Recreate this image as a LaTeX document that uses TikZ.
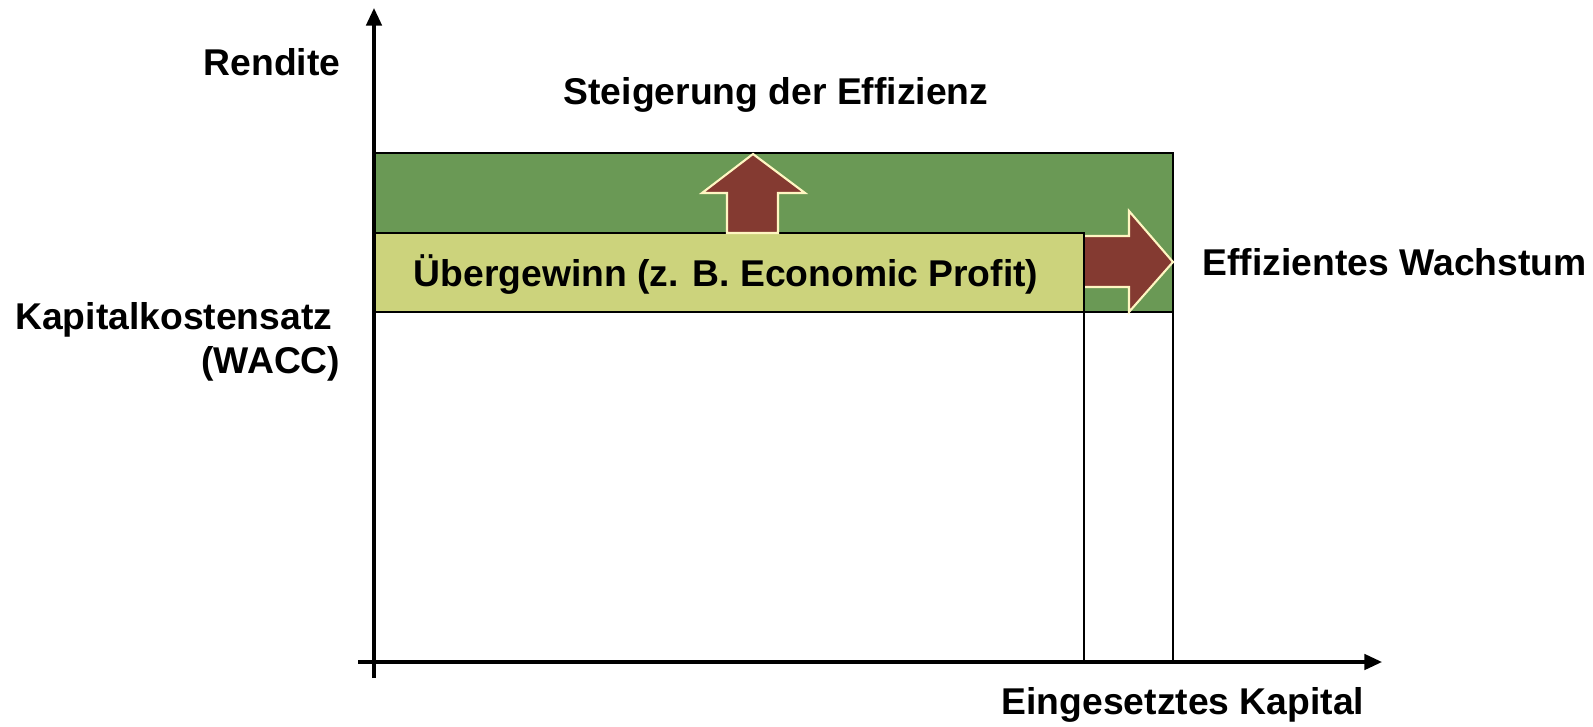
\documentclass[tikz,border=0pt]{standalone}
\usepackage{fontspec}
\setmainfont{Liberation Sans}
\usepackage{tikz}
\usetikzlibrary{arrows.meta,positioning}

\definecolor{effgreen}{HTML}{6A9955}
\definecolor{profyellow}{HTML}{CCD37C}
\definecolor{arrowred}{HTML}{843A31}
\definecolor{arrowrim}{HTML}{FFF6C2}

\begin{document}
\begin{tikzpicture}[x=0.01cm,y=-0.01cm,>={Triangle[length=5pt,width=4.4pt]},
                    font=\fontsize{10.6}{12.6}\selectfont\bfseries]

  \tikzstyle{axis}=[line width=0.9pt,->]
  \tikzstyle{box}=[line width=0.8pt,draw=black]
  \tikzstyle{fat}=[fill=arrowred,draw=arrowrim,line width=0.6pt]
  \tikzstyle{lbl}=[inner sep=0pt]

  \useasboundingbox (0,0) rectangle (1593,727);

  \coordinate (O)  at (374,662);
  \coordinate (YT) at (374,8);
  \coordinate (XL) at (358,662);
  \coordinate (XR) at (1382,662);
  \coordinate (G1) at (374,153);
  \coordinate (G2) at (1173,312);
  \coordinate (P1) at (374,233);
  \coordinate (P2) at (1084,312);

  % areas
  \draw[box,fill=effgreen] (G1) rectangle (G2);
  \draw[box] (G2) -- (G2 |- O);
  \draw[box] (P2) -- (P2 |- O);

  % growth arrow
  \draw[fat] (1070,236) -- (1129,236) -- (1129,211) -- (1173,262)
             -- (1129,312) -- (1129,287) -- (1070,287) -- cycle;
  \draw[box,fill=profyellow] (P1) rectangle (P2);

  % efficiency arrow
  \draw[fat] (727,233) -- (727,193) -- (702,193) -- (753,154)
             -- (805,193) -- (778,193) -- (778,233) -- cycle;

  % axes
  \draw[axis] (374,678) -- (YT);
  \draw[axis] (XL) -- (XR);

  \node[lbl,anchor=east]  (rendite) at (341,62) {Rendite};
  \node[lbl]              (eff)     at (776,95) {Steigerung der Effizienz};
  \node[lbl]              (ueber)   at (726,275) {Übergewinn (z. B. Economic Profit)};
  \node[lbl,anchor=west]  (wachs)   at (1202,262) {Effizientes Wachstum};
  \node[lbl,anchor=east,align=right] (wacc) at (341,342)
       {Kapitalkostensatz\hspace*{0.08cm}\\(WACC)};
  \node[lbl]              (kapital) at (1183,705) {Eingesetztes Kapital};
\end{tikzpicture}
\end{document}
